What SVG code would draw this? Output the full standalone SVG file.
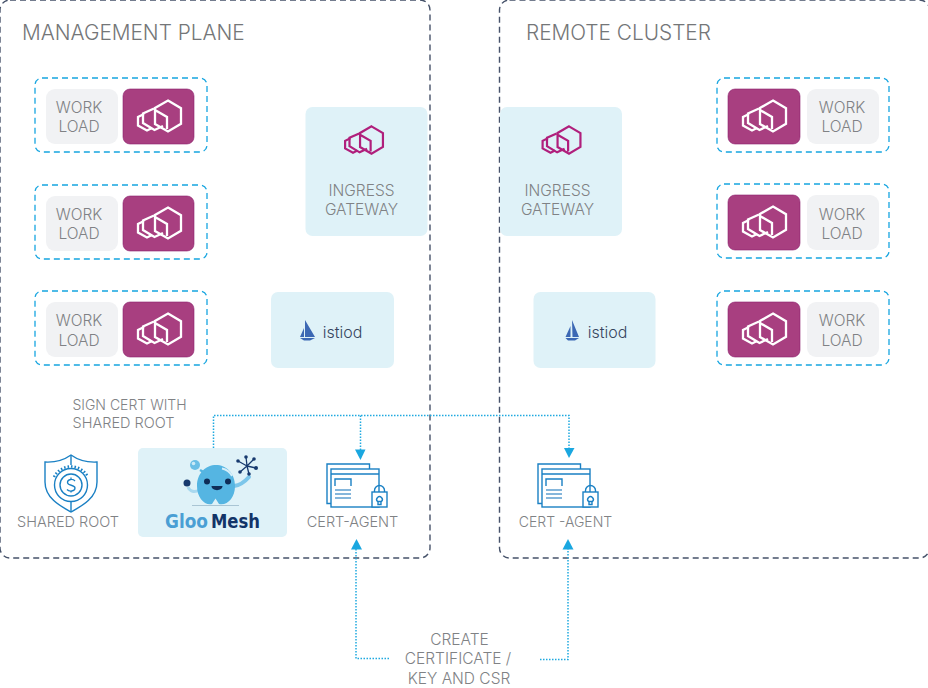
<svg xmlns="http://www.w3.org/2000/svg" width="928" height="688" viewBox="0 0 928 688">
<style>
text{font-family:"Inter","Liberation Sans",sans-serif;font-weight:300;fill:#808285;text-anchor:middle;font-size:15.500px}
.h{font-size:20.800px;text-anchor:start;fill:#747678}
.s{font-size:14.500px}
.n{font-size:14px}
.i{fill:#37465f;font-size:16px}
.plane{fill:none;stroke:#46526a;stroke-width:1.400;stroke-dasharray:6 4}
.dash{fill:none;stroke:#16a5e0;stroke-width:1.300;stroke-dasharray:6 4}
.wl{fill:#f1f2f4}
.env{fill:#a83f80;stroke:#8c1f6d;stroke-width:.6}
.lb{fill:#dff2f8}
.conn{fill:none;stroke:#1fa9e0;stroke-width:1.500;stroke-dasharray:1.500 1.500}
.ah{fill:#1aa7e0}
.hex{fill:none;stroke-linejoin:miter}
.ci{fill:none;stroke:#1a80c4;stroke-width:1.400}
.logo{font-family:"DejaVu Sans",sans-serif;font-weight:700;font-size:20px}
</style>
<defs>
<g id="envoy">
<path d="M0 -15.500L13 -7.800V7.800L0 15.500L-13 8V-8Z M-13 -6L-1 1V13"/>
<path d="M-14 -7.500L-25 -2.500V7L-13.500 14L-5 10"/>
<path d="M-24 -2L-30 1V9.500L-21 14.500L-16 12"/>
</g>
<g id="wlr">
<rect class="dash" x="0" y="0" width="172" height="74" rx="7"/>
<rect class="wl" x="11" y="11" width="72" height="55" rx="9"/>
<rect class="env" x="88" y="11" width="71" height="55" rx="7"/>
<use href="#envoy" x="133" y="38" class="hex" stroke="#fff" stroke-width="2.300"/>
</g>
<g id="wll">
<rect class="dash" x="0" y="0" width="172" height="74" rx="7"/>
<rect class="env" x="11" y="11" width="72" height="55" rx="7"/>
<rect class="wl" x="90" y="11" width="72" height="55" rx="9"/>
<use href="#envoy" x="56" y="38" class="hex" stroke="#fff" stroke-width="2.300"/>
</g>
<g id="cert" class="ci">
<path d="M4 39.500H0V0H42.500V5"/>
<rect x="4" y="5" width="48" height="38" fill="#fff"/>
<path d="M4 10H52M8 22V15H24V22"/>
<path d="M8 26H24M8 30H24M8 34H24" stroke="#5e9fd0"/>
<path d="M47.500 28V26.500A5 5 0 0 1 57.500 26.500V28"/>
<rect x="45" y="28" width="15" height="15" fill="#fff"/>
<path d="M51 40.500V37.500H54V40.500ZM50.500 37.500a2.800 2.800 0 1 1 4 0"/>
</g>
</defs>
<rect id="plane-mgmt-bg" class="plane" x="0" y="0" width="430" height="558" rx="10"/>
<rect id="plane-remote-bg" class="plane" x="499.500" y="0" width="430" height="558" rx="10"/>
<text class="h" x="22" y="40">MANAGEMENT PLANE</text>
<text class="h" x="526" y="40">REMOTE CLUSTER</text>
<g id="wl-l1"><use href="#wlr" x="35" y="78"/><text x="79" y="113">WORK</text><text x="79" y="132">LOAD</text></g>
<g id="wl-l2"><use href="#wlr" x="35" y="185"/><text x="79" y="219.500">WORK</text><text x="79" y="239">LOAD</text></g>
<g id="wl-l3"><use href="#wlr" x="35" y="291"/><text x="79" y="326">WORK</text><text x="79" y="345.500">LOAD</text></g>
<g id="wl-r1"><use href="#wll" x="717" y="78"/><text x="842" y="113">WORK</text><text x="842" y="132">LOAD</text></g>
<g id="wl-r2"><use href="#wll" x="717" y="184"/><text x="842" y="219.500">WORK</text><text x="842" y="239">LOAD</text></g>
<g id="wl-r3"><use href="#wll" x="717" y="291"/><text x="842" y="326">WORK</text><text x="842" y="345.500">LOAD</text></g>
<g id="gw-l">
<rect class="lb" x="305.500" y="107" width="122" height="129" rx="7"/>
<g transform="translate(371.500 140) scale(.88)" class="hex" stroke="#b01f7c" stroke-width="2.500"><use href="#envoy"/></g>
<text x="361.500" y="195.500">INGRESS</text><text x="361.500" y="215">GATEWAY</text>
</g>
<g id="gw-r">
<rect class="lb" x="500" y="107" width="122" height="129" rx="7"/>
<g transform="translate(569 140) scale(.88)" class="hex" stroke="#b01f7c" stroke-width="2.500"><use href="#envoy"/></g>
<text x="557.500" y="195.500">INGRESS</text><text x="557.500" y="215">GATEWAY</text>
</g>
<g id="istiod-l">
<rect class="lb" x="271" y="292" width="123" height="76" rx="7"/>
<path d="M305 320L315 337H305Z M304 328V337H300Z M300 338H315L310 340.500H304Z" fill="#3c68b4"/>
<text class="i" x="342.500" y="338">istiod</text>
</g>
<g id="istiod-r">
<rect class="lb" x="533.500" y="292" width="122" height="76" rx="7"/>
<path d="M572 320L579 337H572.500Z M570.500 326V337H565.500Z M565.500 338H579L575 340.500H568Z" fill="#3c68b4"/>
<text class="i" x="607.500" y="338">istiod</text>
</g>
<g id="shared-root">
<path d="M71 455C78 460 88 462.500 97 462V482C97 498 82 506 71 512C60 506 45 498 45 482V462C54 462.500 64 460 71 455Z" fill="none" stroke="#1a80c4" stroke-width="1.400"/>
<path d="M71 455V465M71 502V512" fill="none" stroke="#1a80c4" stroke-width="1.400"/>
<circle cx="71" cy="485" r="16.500" fill="none" stroke="#1a80c4" stroke-width="1.400"/>
<circle cx="71" cy="485" r="11" fill="none" stroke="#1a80c4" stroke-width="1.400"/>
<path d="M54 477A19 19 0 0 1 88 477" fill="none" stroke="#1a80c4" stroke-width="2.500" stroke-dasharray="1.500 2"/>
<path d="M75 481C73 478.500 67.500 479 67.500 482.500C67.500 486 75 484.500 75 488C75 491.500 69 492 67 489.500M71 477.500V479M71 491V492.500" fill="none" stroke="#1a80c4" stroke-width="1.300"/>
<text class="s" x="68" y="526.500">SHARED ROOT</text>
</g>
<text class="n" x="129.500" y="409.500">SIGN CERT WITH</text>
<text class="s" x="123.500" y="427.500">SHARED ROOT</text>
<g id="gloo-mesh">
<rect class="lb" x="138" y="448" width="149" height="89" rx="5"/>
<path d="M188 487Q191 494 200 490" fill="none" stroke="#a8d8ef" stroke-width="3"/>
<path d="M234 486Q242 485 249 477" fill="none" stroke="#7cc6ea" stroke-width="4" stroke-linecap="round"/>
<path d="M200 470L207 474" stroke="#55b5e2" stroke-width="2.500"/>
<circle cx="195" cy="465" r="5" fill="#6cbfe6"/>
<circle cx="193.500" cy="463.500" r="1.800" fill="#cdeaf6"/>
<path d="M216 465C206 465 197 473 197 486C197 498 205 506 212 504L215.500 498.500L219 504C227 506 235 498 235 486C235 473 226 465 216 465Z" fill="#55b5e2"/>
<path d="M222 468.500Q229 470 232 476" fill="none" stroke="#d5effa" stroke-width="1.800"/>
<path d="M192 505.500H239" stroke="#a9c5d4" stroke-width="1"/>
<circle cx="187" cy="483" r="3.500" fill="#173a6e"/>
<circle cx="207" cy="481.500" r="3" fill="#0f2d57"/>
<circle cx="228" cy="481.500" r="3" fill="#0f2d57"/>
<path d="M211.500 486H222.500C222.500 491.500 211.500 491.500 211.500 486Z" fill="#0f2d57"/>
<path d="M247 466L254 459M247 466L238 461M247 466L256 468M247 466L249 474M247 466L240 472M247 466L246 457" stroke="#173a6e" stroke-width="1.300"/>
<g fill="#173a6e"><circle cx="254" cy="459" r="1.800"/><circle cx="238" cy="461" r="1.800"/><circle cx="256" cy="468" r="2"/><circle cx="249" cy="474" r="1.800"/><circle cx="240" cy="472" r="1.800"/><circle cx="246" cy="457" r="1.800"/></g>
<text class="logo" x="165" y="528" textLength="43" lengthAdjust="spacingAndGlyphs" style="text-anchor:start;fill:#4a9fd4">Gloo</text>
<text class="logo" x="211" y="528" textLength="49" lengthAdjust="spacingAndGlyphs" style="text-anchor:start;fill:#123468">Mesh</text>
</g>
<g id="cert-l"><use href="#cert" x="327" y="464"/><text class="s" x="352.500" y="526.500">CERT-AGENT</text></g>
<g id="cert-r"><use href="#cert" x="538" y="464"/><text class="n" x="565.500" y="526.500">CERT -AGENT</text></g>
<g id="connectors">
<path class="conn" d="M213.500 448V415.500H569V450"/>
<path class="conn" d="M360.500 415.500V450"/>
<path class="ah" d="M355 449.500H365.500L360.500 460Z"/>
<path class="ah" d="M564 448H574.500L569 458Z"/>
<path class="conn" d="M389 658.500H356V548"/>
<path class="ah" d="M351 549.500H362L356.500 539Z"/>
<path class="conn" d="M540 659.500H568V548"/>
<path class="ah" d="M562.500 549.500H573.500L568 539Z"/>
</g>
<text x="459.500" y="644.500">CREATE</text>
<text x="458" y="664">CERTIFICATE /</text>
<text x="459" y="683.500">KEY AND CSR</text>
</svg>
